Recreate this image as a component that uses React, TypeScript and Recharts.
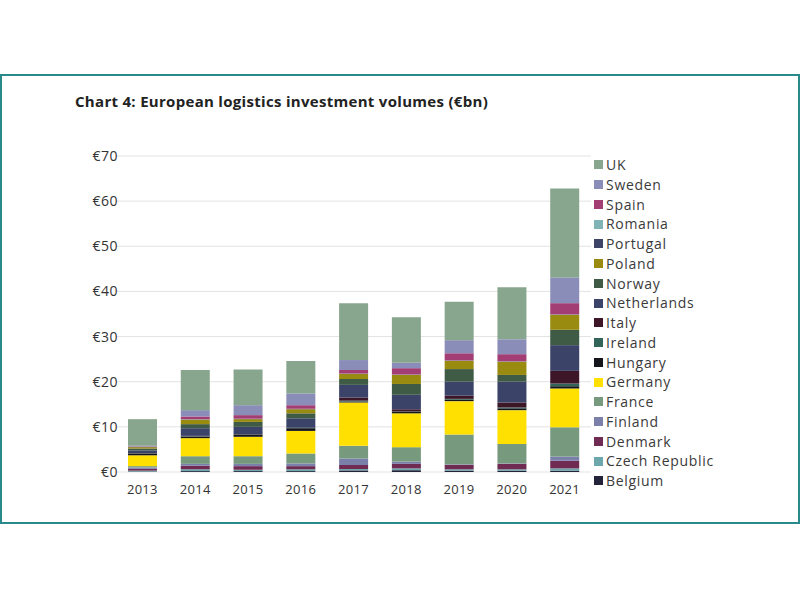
import React from "react";
import { BarChart, Bar, XAxis, YAxis, CartesianGrid } from "recharts";

const years = ["2013", "2014", "2015", "2016", "2017", "2018", "2019", "2020", "2021"];
const yTicks = [0, 10, 20, 30, 40, 50, 60, 70];

const belgium = [0.1, 0.2, 0.2, 0.2, 0.35, 0.4, 0.3, 0.3, 0.3];
const czech = [0.2, 0.4, 0.3, 0.4, 0.3, 0.4, 0.3, 0.3, 0.5];
const denmark = [0.4, 0.8, 0.8, 0.7, 0.9, 1.0, 1.0, 1.2, 1.7];
const finland = [0.3, 0.4, 0.5, 0.6, 1.45, 0.5, 0.1, 0.1, 0.9];
const france = [0.3, 1.7, 1.7, 2.2, 2.8, 3.2, 6.6, 4.3, 6.5];
const germany = [2.4, 4.0, 4.3, 5.0, 9.6, 7.5, 7.4, 7.5, 8.6];
const hungary = [0.3, 0.3, 0.5, 0.6, 0.2, 0.3, 0.3, 0.4, 0.5];
const ireland = [0.1, 0.1, 0.05, 0.05, 0.2, 0.1, 0.2, 0.2, 0.6];
const italy = [0.1, 0.1, 0.05, 0.05, 0.7, 0.5, 0.7, 1.1, 2.8];
const netherlands = [0.6, 1.7, 1.6, 2.1, 2.8, 3.2, 3.1, 4.6, 5.7];
const norway = [0.4, 0.9, 1.1, 1.1, 1.3, 2.4, 2.8, 1.5, 3.4];
const poland = [0.3, 1.0, 0.6, 0.9, 1.1, 2.0, 1.8, 2.9, 3.3];
const portugal = [0.05, 0.05, 0.05, 0.05, 0.05, 0.05, 0.05, 0.05, 0.05];
const romania = [0.05, 0.05, 0.05, 0.05, 0.05, 0.05, 0.05, 0.05, 0.05];
const spain = [0.1, 0.6, 0.8, 0.8, 0.8, 1.4, 1.6, 1.6, 2.5];
const sweden = [0.1, 1.4, 2.2, 2.6, 2.2, 1.2, 2.9, 3.3, 5.7];
const uk = [5.9, 8.9, 7.9, 7.2, 12.6, 10.1, 8.5, 11.5, 19.7];

const seriesNames = [
  "Belgium", "Czech Republic", "Denmark", "Finland", "France", "Germany", "Hungary",
  "Ireland", "Italy", "Netherlands", "Norway", "Poland", "Portugal", "Romania",
  "Spain", "Sweden", "UK",
];
const seriesValues = [
  belgium, czech, denmark, finland, france, germany, hungary, ireland, italy,
  netherlands, norway, poland, portugal, romania, spain, sweden, uk,
];
const seriesColors = [
  "#23233a", "#6ba7ab", "#702b52", "#7b80ab", "#779a7f", "#ffe000", "#15151c",
  "#336459", "#3d1728", "#3b4368", "#3f5a45", "#998a10", "#3e4468", "#80b3b5",
  "#a33e74", "#8a8db8", "#88a58e",
];

const data = years.map((y, i) => {
  const row: Record<string, number | string> = { year: y };
  seriesNames.forEach((n, k) => {
    row[n] = seriesValues[k][i];
  });
  return row;
});

const font = "'Open Sans', sans-serif";

const LegendContent = () => {
  const items = seriesNames.map((n, k) => ({ n, c: seriesColors[k] })).reverse();
  return (
    <div style={{ fontFamily: font }}>
      {items.map((it) => (
        <div key={it.n} style={{ display: "flex", alignItems: "center", height: 19.75 }}>
          <span style={{ width: 9, height: 9, background: it.c, display: "inline-block", marginRight: 3 }} />
          <span style={{ fontSize: 14, letterSpacing: 0.7, color: "#3a3a3a", lineHeight: "19.75px" }}>{it.n}</span>
        </div>
      ))}
    </div>
  );
};

export default function App() {
  return (
    <div style={{ position: "absolute", left: 0, top: 0, width: 800, height: 600, background: "#fff", overflow: "hidden" }}>
      <div
        style={{
          position: "absolute",
          left: 0,
          top: 74,
          width: 800,
          height: 450,
          boxSizing: "border-box",
          border: "2px solid #2a8a8a",
        }}
      />
      <div
        style={{
          position: "absolute",
          left: 75,
          top: 91,
          fontFamily: font,
          fontWeight: 700,
          fontSize: 15,
          letterSpacing: 0.3,
          color: "#222",
          whiteSpace: "nowrap",
        }}
      >
        Chart 4: European logistics investment volumes (€bn)
      </div>
      <div style={{ position: "absolute", left: 0, top: 0 }}>
        <BarChart
          width={800}
          height={600}
          data={data}
          margin={{ top: 156, right: 209, left: 76, bottom: 98 }}
          barSize={29}
        >
          <CartesianGrid vertical={false} stroke="#e3e3e3" />
          <XAxis
            dataKey="year"
            axisLine={false}
            tickLine={false}
            height={30}
            tick={{ fontFamily: font, fontSize: 13, fill: "#333", letterSpacing: 0.3 }}
            tickMargin={7}
          />
          <YAxis
            width={40}
            domain={[0, 70]}
            ticks={yTicks}
            axisLine={false}
            tickLine={false}
            tickSize={0}
            tickMargin={0}
            tickFormatter={(v: number) => `€${v}`}
            tick={{ fontFamily: font, fontSize: 14, fill: "#333", letterSpacing: 0.5, dx: 2 }}
          />
          {seriesNames.map((n, k) => (
            <Bar key={n} dataKey={n} stackId="a" fill={seriesColors[k]} isAnimationActive={false} />
          ))}
        </BarChart>
      </div>
      <div style={{ position: "absolute", left: 594, top: 155 }}>
        <LegendContent />
      </div>
    </div>
  );
}
